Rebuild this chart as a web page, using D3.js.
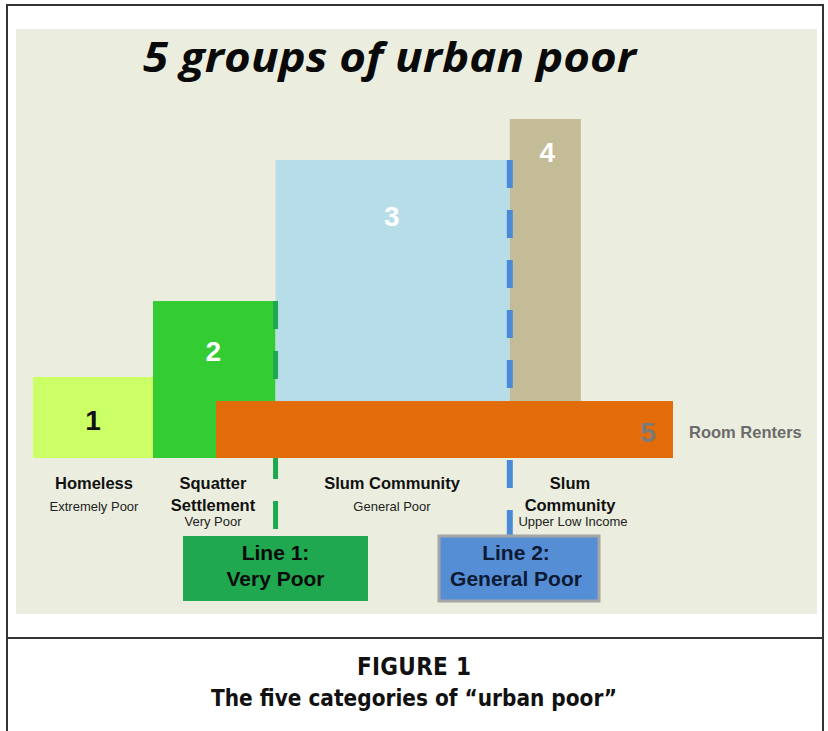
<!DOCTYPE html>
<html><head><meta charset="utf-8">
<script src="https://cdn.jsdelivr.net/npm/d3@7"></script>
<style>body{margin:0;background:#fff;} svg{display:block}</style>
</head><body><svg id="c" width="828" height="731"></svg>
<script>
// ---- data ----
const title = "5 groups of urban poor";
const groupIds    = ["1", "2", "3", "4", "5"];
const groupStart  = [0, 18.75, 37.9, 74.5, 28.6];     // position on the income axis
const groupEnd    = [18.75, 37.9, 74.5, 85.6, 100];
const groupHeight = [23.9, 46.3, 87.9, 100, 16.8];    // relative size
const groupColors = ["#CCFF66", "#33CC33", "#B7DDE8", "#C4BC96", "#E36C0A"];
const groupNumColors = ["#111111", "#ffffff", "#ffffff", "#ffffff", "#7a7a7a"];
const groupSideLabel = ["", "", "", "", "Room Renters"];
const catNames = [["Homeless"], ["Squatter", "Settlement"], ["Slum Community"], ["Slum", "Community"]];
const catSub   = ["Extremely Poor", "Very Poor", "General Poor", "Upper Low Income"];
const lineNames  = [["Line 1:", "Very Poor"], ["Line 2:", "General Poor"]];
const lineAt     = [37.9, 74.5];          // boundary on income axis
const lineColors = ["#1DA84F", "#4A8AD8"];
const lineBoxColors = ["#1FA84F", "#558ED5"];
const figLabel = "FIGURE 1";
const figCaption = "The five categories of \u201Curban poor\u201D";

// ---- layout ----
const svg = d3.select("#c");
const x = d3.scaleLinear().domain([0, 100]).range([33, 673]);
const y = d3.scaleLinear().domain([0, 100]).range([458, 119]);
const arial = "'Liberation Sans', Arial, sans-serif";

// frame
svg.append("rect").attr("x", 0).attr("y", 0).attr("width", 828).attr("height", 731).attr("fill", "#fff");
svg.append("path").attr("d", "M7,745 V5 H823 V745").attr("fill", "none").attr("stroke", "#333").attr("stroke-width", 2);
svg.append("line").attr("x1", 7).attr("x2", 823).attr("y1", 638).attr("y2", 638).attr("stroke", "#333").attr("stroke-width", 2);
// panel
svg.append("rect").attr("x", 16).attr("y", 29).attr("width", 801).attr("height", 585).attr("fill", "#EBEEDF");

// title
svg.append("text").attr("x", 143).attr("y", 72)
  .attr("textLength", 493).attr("lengthAdjust", "spacingAndGlyphs")
  .style("font-family", "'Open Sans', sans-serif").style("font-weight", 700).style("font-style", "italic")
  .style("font-size", "42px").attr("fill", "#0a0a0a").text(title);

const idx = d3.range(groupIds.length);
// boxes 1-4
const g = svg.append("g");
g.selectAll("rect.b").data(idx.slice(0, 4)).join("rect").attr("class", "b")
  .attr("x", i => x(groupStart[i])).attr("width", i => x(groupEnd[i]) - x(groupStart[i]))
  .attr("y", i => y(groupHeight[i])).attr("height", i => y(0) - y(groupHeight[i]))
  .attr("fill", i => groupColors[i]);

// poverty lines (dashed)
const lineTop = [y(groupHeight[1]), y(groupHeight[2])];
const lineBottom = [530, 536];
lineAt.forEach((v, k) => {
  svg.append("line").attr("x1", x(v)).attr("x2", x(v)).attr("y1", lineTop[k]).attr("y2", lineBottom[k])
    .attr("stroke", lineColors[k]).attr("stroke-width", k === 0 ? 5 : 6)
    .attr("stroke-dasharray", "28,22");
});

// box 5 (on top)
svg.append("rect").attr("x", x(groupStart[4])).attr("width", x(groupEnd[4]) - x(groupStart[4]))
  .attr("y", y(groupHeight[4])).attr("height", y(0) - y(groupHeight[4])).attr("fill", groupColors[4]);

// group numbers
const numPos = [
  [(x(groupStart[0]) + x(groupEnd[0])) / 2, 430],
  [(x(groupStart[1]) + x(groupEnd[1])) / 2 - 1, 361],
  [(x(groupStart[2]) + x(groupEnd[2])) / 2 - 1, 226],
  [(x(groupStart[3]) + x(groupEnd[3])) / 2 + 2, 162],
  [x(groupEnd[4]) - 25, 442]
];
idx.forEach(i => {
  svg.append("text").attr("x", numPos[i][0]).attr("y", numPos[i][1]).attr("text-anchor", "middle")
    .style("font-family", arial).style("font-weight", 700).style("font-size", "28px")
    .attr("fill", groupNumColors[i]).text(groupIds[i]);
});
svg.append("text").attr("x", x(groupEnd[4]) + 16).attr("y", 438)
  .style("font-family", arial).style("font-weight", 700).style("font-size", "16.5px")
  .attr("fill", "#6b6b6b").text(groupSideLabel[4]);

// category labels
const catX = [94, 213, 392, 570];
catNames.forEach((lines, i) => {
  lines.forEach((t, j) => {
    svg.append("text").attr("x", catX[i]).attr("y", 489 + j * 22).attr("text-anchor", "middle")
      .style("font-family", arial).style("font-weight", 700).style("font-size", "16.5px")
      .attr("fill", "#111").text(t);
  });
  const sy = lines.length === 1 ? 511 : 526;
  svg.append("text").attr("x", i === 3 ? catX[i] + 3 : catX[i]).attr("y", sy).attr("text-anchor", "middle")
    .style("font-family", arial).style("font-size", "13px").attr("fill", "#222").text(catSub[i]);
});

// line boxes
const boxX = [183, 439];
const boxW = [185, 160];
lineNames.forEach((lines, k) => {
  svg.append("rect").attr("x", boxX[k]).attr("y", 536).attr("width", boxW[k]).attr("height", 65)
    .attr("fill", lineBoxColors[k])
    .attr("stroke", k === 1 ? "#A6A6A6" : "none").attr("stroke-width", 3);
  lines.forEach((t, j) => {
    svg.append("text").attr("x", boxX[k] + boxW[k] / 2 + (k === 1 ? -3 : 0)).attr("y", 560 + j * 26)
      .attr("text-anchor", "middle")
      .style("font-family", arial).style("font-weight", 700).style("font-size", "21px")
      .attr("fill", k === 1 ? "#0d1a33" : "#0a0a0a").text(t);
  });
});

// caption
svg.append("text").attr("x", 414).attr("y", 675).attr("text-anchor", "middle")
  .attr("textLength", 114).attr("lengthAdjust", "spacing")
  .style("font-family", "'Liberation Sans Narrow', 'DejaVu Sans Condensed', sans-serif")
  .style("font-weight", 700).style("font-size", "24px").attr("fill", "#111").text(figLabel);
svg.append("text").attr("x", 414).attr("y", 706).attr("text-anchor", "middle")
  .attr("textLength", 406).attr("lengthAdjust", "spacingAndGlyphs")
  .style("font-family", "'Liberation Sans Narrow', 'DejaVu Sans Condensed', sans-serif")
  .style("font-weight", 700).style("font-size", "23px").attr("fill", "#111").text(figCaption);
</script></body></html>
